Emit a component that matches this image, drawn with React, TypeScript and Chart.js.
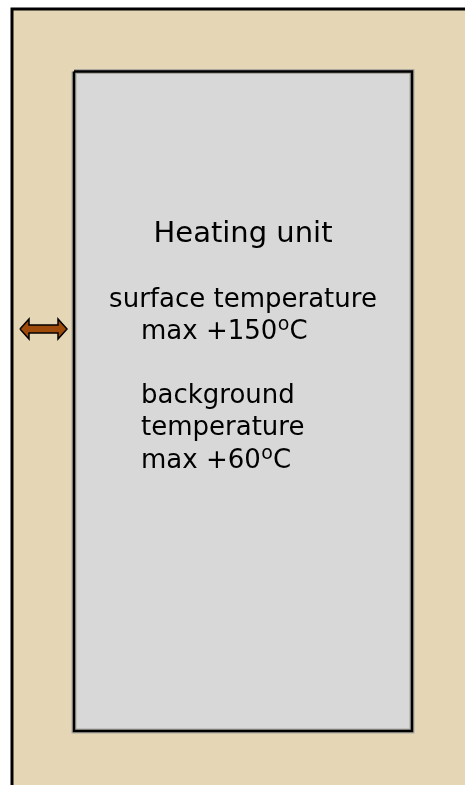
import React, { useEffect, useRef } from "react";
import { Chart, registerables } from "chart.js";

Chart.register(...registerables);

// Diagram geometry in data units (x: 0..465, y: 0..785, y grows downward)
const panelFill: [number, number][] = [[12, 9], [466, 9], [466, 786], [12, 786], [12, 9]];
const panelEdge: [number, number][] = [[12, 786], [12, 9], [466, 9]];
const unitBox: [number, number][] = [[74, 71.5], [412, 71.5], [412, 731], [74, 731], [74, 71.5]];
const arrowShape: [number, number][] = [
  [20, 329], [29, 319], [29, 325], [58, 325], [58, 319], [67, 329],
  [58, 339], [58, 333], [29, 333], [29, 339], [20, 329],
];

// Text labels
const labelTexts = ["Heating unit", "surface temperature", "max +150", "background", "temperature", "max +60"];
const labelX = [243, 243, 141, 141, 141, 141];
const labelY = [242, 307, 339, 403, 435, 468];
const labelSizes = [29, 26, 26, 26, 26, 26];
const labelAlign = ["center", "center", "left", "left", "left", "left"];
const labelDegree = [false, false, true, false, false, true];

const FONT = "'DejaVu Sans', Verdana, sans-serif";

const toPts = (a: [number, number][]) => a.map(([x, y]) => ({ x, y }));

const labelPlugin = {
  id: "labels",
  afterDatasetsDraw(chart: any) {
    const { ctx, scales } = chart;
    ctx.save();
    ctx.fillStyle = "#000";
    ctx.textBaseline = "alphabetic";
    labelTexts.forEach((t, i) => {
      const px = scales.x.getPixelForValue(labelX[i]);
      const py = scales.y.getPixelForValue(labelY[i]);
      const size = labelSizes[i];
      ctx.font = `${size}px ${FONT}`;
      ctx.textAlign = labelAlign[i];
      ctx.fillText(t, px, py);
      if (labelDegree[i]) {
        ctx.textAlign = "left";
        let x = px + ctx.measureText(t).width;
        ctx.font = `${Math.round(size * 0.72)}px ${FONT}`;
        ctx.fillText("o", x + 0.5, py - 9);
        x += ctx.measureText("o").width + 0.5;
        ctx.font = `${size}px ${FONT}`;
        ctx.fillText("C", x, py);
      }
    });
    ctx.restore();
  },
};

export default function App() {
  const ref = useRef<HTMLCanvasElement>(null);
  useEffect(() => {
    document.body.style.margin = "0";
    const base = {
      showLine: true,
      pointRadius: 0,
      pointHoverRadius: 0,
      borderJoinStyle: "miter" as const,
      tension: 0,
      clip: false as const,
    };
    const chart = new Chart(ref.current as HTMLCanvasElement, {
      type: "scatter",
      data: {
        datasets: [
          { ...base, data: toPts(panelFill), backgroundColor: "#E5D7B5", borderWidth: 0, borderColor: "transparent", fill: "shape", order: 10 },
          { ...base, data: toPts(panelEdge), borderColor: "#000", borderWidth: 3, fill: false, order: 9 },
          { ...base, data: toPts(unitBox), backgroundColor: "#D8D8D8", borderColor: "#A9A79F", borderWidth: 5, fill: "shape", order: 8 },
          { ...base, data: toPts(unitBox), borderColor: "#000", borderWidth: 2.5, fill: false, order: 7 },
          { ...base, data: toPts(arrowShape), backgroundColor: "#9E4A0A", borderColor: "#000", borderWidth: 1.5, fill: "shape", order: 6 },
        ] as any,
      },
      options: {
        animation: false,
        responsive: false,
        maintainAspectRatio: false,
        events: [],
        layout: { padding: 0 },
        scales: {
          x: { type: "linear", min: 0, max: 465, display: false },
          y: { type: "linear", min: 0, max: 785, reverse: true, display: false },
        },
        plugins: { legend: { display: false }, tooltip: { enabled: false } },
      },
      plugins: [labelPlugin],
    });
    return () => chart.destroy();
  }, []);
  return (
    <div style={{ position: "absolute", left: 0, top: 0, width: 465, height: 785 }}>
      <canvas ref={ref} width={465} height={785} style={{ display: "block" }} />
    </div>
  );
}
